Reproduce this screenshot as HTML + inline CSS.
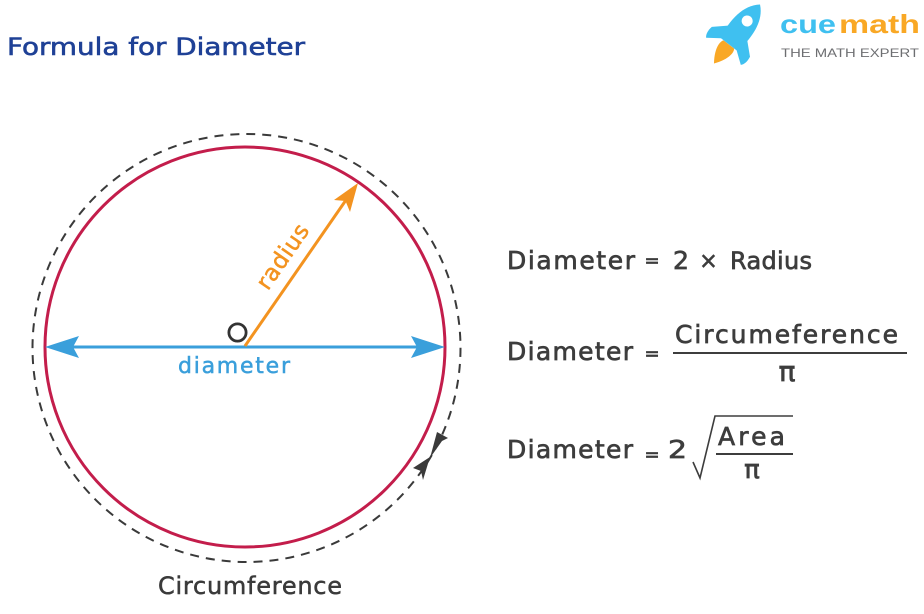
<!DOCTYPE html>
<html>
<head>
<meta charset="utf-8">
<style>
html,body{margin:0;padding:0;background:#ffffff;}
svg{display:block;}
text{font-family:"DejaVu Sans","Liberation Sans",sans-serif;}
</style>
</head>
<body>
<svg width="924" height="614" viewBox="0 0 924 614" xmlns="http://www.w3.org/2000/svg">
  <rect width="924" height="614" fill="#ffffff"/>

  <!-- Title -->
  <text x="7" y="55" font-size="24" fill="#1f4196" stroke="#1f4196" stroke-width="0.6" textLength="298" lengthAdjust="spacingAndGlyphs">Formula for Diameter</text>

  <!-- Logo rocket -->
  <g transform="translate(737,34) rotate(38) scale(1.1)">
    <path d="M0,34 C-9,22 -8,14 -6,12 L6,12 C8,14 9,22 0,34 Z" fill="#f9a825"/>
    <path d="M-10,-2 L-22,9 C-23,14 -22,18 -20,20 L-9,12 Z" fill="#3fc0f0"/>
    <path d="M10,-2 L22,9 C23,14 22,18 20,20 L9,12 Z" fill="#3fc0f0"/>
    <path d="M0,-34 C12,-24 13,-6 10,12 L-10,12 C-13,-6 -12,-24 0,-34 Z" fill="#3fc0f0"/>
    <circle cx="0" cy="-15" r="5" fill="#ffffff"/>
  </g>
  <text x="780" y="33" font-size="26" font-weight="bold" fill="#3fc0f0" style="font-family:'Liberation Sans',sans-serif" textLength="56" lengthAdjust="spacingAndGlyphs">cue</text>
  <text x="839" y="33" font-size="26" font-weight="bold" fill="#f9a825" style="font-family:'Liberation Sans',sans-serif" textLength="81" lengthAdjust="spacingAndGlyphs">math</text>
  <text x="781" y="57" font-size="12" fill="#6d6e71" style="font-family:'Liberation Sans',sans-serif" textLength="138" lengthAdjust="spacingAndGlyphs">THE MATH EXPERT</text>

  <!-- Dashed circumference circle -->
  <circle cx="246.5" cy="348" r="214" fill="none" stroke="#3a3a3a" stroke-width="2" stroke-dasharray="9 7"/>
  <!-- Arrowheads on dashed circle -->
  <path d="M437,432 L448,438 L442,441 L430,458 Z" fill="#3a3a3a"/>
  <path d="M430,457 L423,480 L421,471 L413,468 Z" fill="#3a3a3a"/>

  <!-- Red circle -->
  <circle cx="245" cy="347" r="200" fill="none" stroke="#c31d4b" stroke-width="3"/>

  <!-- Diameter line -->
  <line x1="70" y1="347" x2="420" y2="347" stroke="#3a9fdb" stroke-width="3"/>
  <path d="M45,347 L79,336 L73,347 L79,358 Z" fill="#3a9fdb"/>
  <path d="M445,347 L411,336 L417,347 L411,358 Z" fill="#3a9fdb"/>
  <text x="178" y="373" font-size="22" fill="#3a9fdb" stroke="#3a9fdb" stroke-width="0.5" textLength="112" lengthAdjust="spacing">diameter</text>

  <!-- Radius -->
  <line x1="245" y1="346" x2="346" y2="200" stroke="#f39320" stroke-width="3"/>
  <path d="M358,183 L350,212 L345.5,201 L334,200 Z" fill="#f39320"/>
  <g transform="translate(289,261) rotate(-55.3)">
    <text x="0" y="0" font-size="23" fill="#f39320" stroke="#f39320" stroke-width="0.5" text-anchor="middle" textLength="74" lengthAdjust="spacing">radius</text>
  </g>

  <!-- Center O -->
  <circle cx="237.5" cy="332.5" r="8.6" fill="none" stroke="#333333" stroke-width="2.8"/>

  <!-- Circumference label -->
  <text x="158" y="594" font-size="24" fill="#3a3a3a" stroke="#3a3a3a" stroke-width="0.5" textLength="184" lengthAdjust="spacing">Circumference</text>

  <!-- Equation 1 -->
  <g fill="#3d3d3d" stroke="#3d3d3d" stroke-width="0.7">
    <text x="507" y="269" font-size="25" textLength="128" lengthAdjust="spacing">Diameter</text>
    <text x="652" y="266.5" font-size="18" text-anchor="middle">=</text>
    <text x="673" y="269" font-size="25" textLength="16" lengthAdjust="spacingAndGlyphs">2</text>
    <text x="708.5" y="268" font-size="22" text-anchor="middle">×</text>
    <text x="730" y="269" font-size="24" textLength="82" lengthAdjust="spacing">Radius</text>
  </g>

  <!-- Equation 2 -->
  <g fill="#3d3d3d" stroke="#3d3d3d" stroke-width="0.7">
    <text x="507" y="360" font-size="25" textLength="126" lengthAdjust="spacing">Diameter</text>
    <text x="652" y="359.5" font-size="18" text-anchor="middle">=</text>
    <text x="675" y="343" font-size="25" textLength="223" lengthAdjust="spacing">Circumeference</text>
    <text x="787" y="381" font-size="28" text-anchor="middle">π</text>
  </g>
  <line x1="673" y1="353" x2="907" y2="353" stroke="#3d3d3d" stroke-width="2"/>

  <!-- Equation 3 -->
  <g fill="#3d3d3d" stroke="#3d3d3d" stroke-width="0.7">
    <text x="507" y="458" font-size="25" textLength="126" lengthAdjust="spacing">Diameter</text>
    <text x="652" y="460.5" font-size="18" text-anchor="middle">=</text>
    <text x="668" y="458" font-size="25" textLength="19" lengthAdjust="spacingAndGlyphs">2</text>
    <text x="718" y="445" font-size="25" textLength="67" lengthAdjust="spacing">Area</text>
    <text x="752" y="478" font-size="26" text-anchor="middle">π</text>
  </g>
  <polyline points="693,462 700,478 715,416 793,416" fill="none" stroke="#3d3d3d" stroke-width="1.6"/>
  <line x1="716" y1="454" x2="793" y2="454" stroke="#3d3d3d" stroke-width="2"/>
</svg>
</body>
</html>
